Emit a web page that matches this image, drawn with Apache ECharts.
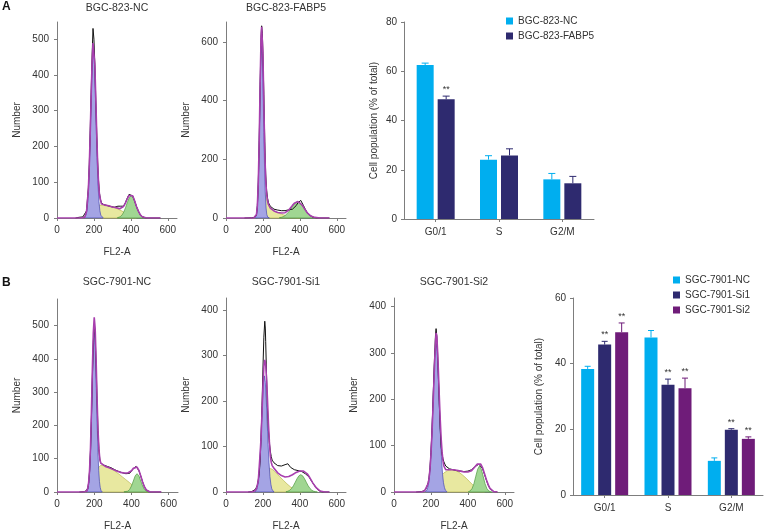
<!DOCTYPE html>
<html><head><meta charset="utf-8">
<script src="https://cdn.jsdelivr.net/npm/echarts@6/dist/echarts.min.js"></script>
<style>html,body{margin:0;padding:0;background:#fff}#c{width:764px;height:532px}</style>
</head><body><div id="c"></div>
<script>
// ---------------- DATA ----------------
const histTitles = ['BGC-823-NC','BGC-823-FABP5','SGC-7901-NC','SGC-7901-Si1','SGC-7901-Si2'];
const fl2Ticks = [0,200,400,600];
const numTicksA1 = [0,100,200,300,400,500];
const numTicksA2 = [0,200,400,600];
const numTicksB1 = [0,100,200,300,400,500];
const numTicksB2 = [0,100,200,300,400];
const numTicksB3 = [0,100,200,300,400];

// BGC-823-NC  (FL2-A channel, count)
const a1Raw = [[100,0],[120,2],[130,1],[140,3],[150,4],[160,20],[170,85],[175,150],[180,245],[185,350],[190,450],[195,530],[200,500],[205,430],[210,330],[215,240],[220,160],[225,105],[230,70],[235,52],[240,44],[250,38],[260,36],[270,35],[280,33],[290,32],[300,31],[310,30],[320,30],[330,33],[340,35],[345,33],[350,30],[360,33],[370,42],[380,55],[390,66],[395,70],[400,69],[410,62],[420,48],[430,33],[440,20],[450,10],[460,4],[470,1],[480,0],[560,0]];
const a1Fit = [[0,0],[130,0],[150,2],[160,18],[170,81],[175,148],[180,238],[185,342],[190,435],[195,489],[200,486],[205,428],[210,336],[215,239],[220,156],[225,98],[230,65],[240,40],[250,36],[260,36],[280,34],[300,31],[320,29],[340,26],[350,27],[360,32],[370,41],[380,53],[390,63],[400,67],[410,62],[420,49],[430,33],[440,20],[450,10],[460,4],[470,1.5],[480,0.5],[500,0],[560,0]];
const a1G1 = [[145,1],[157,8],[162,21],[167,47],[172,95],[177,169],[182,265],[187,364],[192,441],[197,470],[202,441],[207,364],[212,265],[217,169],[222,95],[227,47],[232,21],[237,8],[249,1]];
const a1S = [[150,0],[170,8],[190,20],[210,31],[230,36],[250,36],[270,35],[290,33],[310,30],[330,25],[350,20],[370,14],[390,8],[410,3],[430,0]];
const a1G2 = [[327,0.6],[342,3.5],[352,8],[362,17],[372,30],[382,45],[392,57],[402,62],[412,57],[422,45],[432,30],[442,17],[452,8],[462,3.5],[477,0.6]];

// BGC-823-FABP5
const a2Raw = [[100,0],[140,1],[155,2],[165,10],[170,40],[175,120],[180,265],[185,455],[190,615],[193,655],[197,630],[200,560],[205,420],[210,260],[215,150],[220,95],[225,68],[230,52],[240,40],[250,34],[260,30],[270,28],[280,27],[290,27],[300,25],[310,24],[320,25],[330,27],[340,28],[350,28],[360,30],[370,35],[380,42],[390,52],[400,58],[405,60],[410,55],[420,42],[430,29],[440,18],[450,11],[460,6],[470,3],[480,1],[490,0],[560,0]];
const a2Fit = [[0,0],[150,0],[160,3],[165,12],[170,43],[175,124],[180,268],[185,461],[190,619],[193,652],[195,648],[200,560],[205,387],[210,229],[215,130],[220,81],[225,59],[230,46],[240,34],[250,29],[260,24],[270,21],[280,19],[290,18],[300,17],[310,17],[320,18],[330,22],[340,27],[350,35],[360,43],[370,50],[380,55],[390,56],[400,53],[410,46],[420,37],[430,27],[440,18],[450,11.5],[460,6.6],[470,3.5],[480,2],[500,0.3],[520,0],[560,0]];
const a2G1 = [[160,3],[165,12],[169,34],[173,81],[177,167],[181,292],[185,436],[189,554],[193,600],[197,554],[201,436],[205,292],[209,167],[213,81],[217,34],[221,12],[226,3],[235,0]];
const a2S = [[170,0],[180,10],[190,45],[200,90],[205,95],[210,88],[220,65],[230,45],[240,34],[260,24],[280,18],[300,13],[320,9],[340,6],[360,3],[380,1],[400,0]];
const a2G2 = [[290,1.3],[300,2.3],[310,4.6],[320,8.3],[330,14],[340,21.5],[350,30.5],[360,40],[370,48],[380,53.6],[388,55],[400,52],[410,45],[420,36],[430,27],[440,18],[450,11.5],[460,6.6],[470,3.5],[480,1.8],[500,0.3]];

// SGC-7901-NC
const b1Raw = [[120,0],[150,1],[160,3],[165,10],[170,28],[175,62],[180,125],[185,225],[190,345],[195,450],[200,505],[205,470],[210,385],[215,280],[220,185],[225,128],[230,98],[235,87],[240,83],[250,81],[260,79],[270,77],[280,75],[290,73],[300,70],[310,67],[320,65],[330,62],[340,60],[350,58],[360,57],[370,55],[380,54],[390,56],[400,62],[410,70],[420,76],[425,77],[430,74],[440,64],[450,48],[460,30],[470,15],[480,6],[490,2],[500,0],[560,0]];
const b1Fit = [[0,0],[140,0],[160,2],[165,11],[170,29],[175,67],[180,134],[185,242],[190,369],[195,478],[200,525],[205,492],[210,399],[215,286],[220,191],[225,131],[230,99],[235,87],[240,82],[260,77],[280,73],[300,68],[320,63],[340,59],[360,57],[380,57],[390,59],[400,64],[410,71],[420,76],[430,75],[440,65],[450,48],[460,30],[470,15],[480,6],[490,2],[500,0],[560,0]];
const b1G1 = [[158,1],[164,5],[168,14],[172,32],[176,65],[180,119],[184,197],[188,291],[192,384],[196,454],[200,480],[204,454],[208,384],[212,291],[216,197],[220,119],[224,65],[228,32],[232,14],[236,5],[242,1]];
const b1S = [[160,0],[170,8],[180,15],[190,30],[200,45],[210,60],[220,72],[235,80],[250,79],[270,75],[290,70],[310,63],[330,55],[350,46],[370,37],[390,28],[410,18],[430,10],[450,4],[470,1],[490,0]];
const b1G2 = [[360,0.6],[380,2.4],[390,7.4],[400,18],[410,33],[420,48.5],[430,55],[440,48.5],[450,33],[460,18],[470,7.4],[480,2.4],[490,0.6],[500,0]];

// SGC-7901-Si1
const b2Raw = [[120,0],[140,1],[150,3],[160,6],[170,15],[180,40],[185,70],[190,120],[195,190],[200,270],[205,340],[210,375],[213,360],[215,330],[220,250],[225,180],[230,135],[235,108],[240,90],[245,78],[250,70],[260,64],[270,60],[280,58],[290,57],[300,57],[310,58],[320,60],[330,63],[335,62],[340,58],[350,54],[360,51],[370,49],[380,48],[390,47],[400,46],[410,45],[420,43],[430,40],[440,37],[450,33],[460,26],[470,20],[480,14],[490,9],[500,4],[510,2],[520,0],[560,0]];
const b2Fit = [[0,0],[140,0],[155,2],[165,7],[175,25],[185,85],[190,120],[195,175],[200,230],[205,275],[210,290],[215,280],[220,245],[225,200],[230,150],[235,110],[240,80],[245,65],[250,58],[260,52],[270,47],[280,42],[290,38],[300,36],[310,34],[320,33],[330,33],[340,34],[350,36],[360,38],[370,40],[380,43],[390,45],[400,46],[410,46],[420,46],[430,44],[440,40],[450,34],[460,27],[470,20],[480,14],[490,9],[500,5],[510,2],[520,1],[535,0],[560,0]];
const b2G1 = [[156,0.6],[163,3],[168,7],[173,17],[178,34],[183,64],[188,105],[193,155],[198,204],[203,241],[208,255],[213,241],[218,204],[223,155],[228,105],[233,64],[238,34],[243,17],[248,7],[253,3],[260,0.6]];
const b2S = [[160,0],[175,8],[190,22],[205,38],[220,48],[235,52],[250,50],[270,43],[290,34],[310,26],[330,18],[350,11],[370,6],[390,2],[410,0]];
const b2G2 = [[325,0.6],[335,1.7],[345,3.8],[355,7.7],[365,13.7],[375,21.4],[385,29.4],[395,35.6],[405,38],[415,35.6],[425,29.4],[435,21.4],[445,13.7],[455,7.7],[465,3.8],[475,1.7],[485,0.6],[495,0]];

// SGC-7901-Si2
const b3Raw = [[120,0],[150,1],[165,3],[175,8],[185,20],[190,32],[195,52],[200,85],[205,125],[210,180],[215,240],[220,295],[225,340],[228,352],[232,335],[236,300],[240,255],[245,195],[250,140],[255,100],[260,82],[265,72],[270,65],[280,56],[290,52],[300,50],[310,49],[320,48],[330,48],[340,46],[350,45],[360,45],[370,44],[380,44],[390,45],[400,45],[410,46],[420,48],[430,51],[440,55],[450,57],[460,60],[465,61],[470,58],[480,50],[490,38],[500,26],[510,15],[520,7],[530,3],[540,1],[550,0],[560,0]];
const b3Fit = [[0,0],[150,0],[165,2],[175,6],[185,18],[190,30],[195,50],[200,80],[205,120],[210,170],[215,225],[220,280],[225,325],[228,343],[232,335],[236,305],[240,265],[245,210],[250,160],[255,118],[260,88],[265,68],[270,56],[280,48],[290,47],[300,48],[320,48],[340,47],[360,45],[380,43],[400,43],[420,46],[430,50],[440,55],[450,60],[460,62],[470,60],[480,52],[490,40],[500,27],[510,16],[520,8],[530,4],[540,1],[550,0],[560,0]];
const b3G1 = [[170,1],[178,4],[183,10],[188,20],[193,38],[198,67],[203,109],[208,160],[213,217],[218,269],[223,306],[228,320],[233,306],[238,269],[243,217],[248,160],[253,109],[258,67],[263,38],[268,20],[273,10],[278,4],[286,1]];
const b3S = [[170,0],[190,5],[210,13],[230,22],[250,33],[270,41],[290,46],[310,48],[330,47],[350,43],[370,37],[390,30],[410,22],[430,14],[450,7],[470,3],[490,0]];
const b3G2 = [[403,0.6],[413,2.5],[423,7.5],[433,18],[443,34],[453,49],[463,56],[473,49],[483,34],[493,18],[503,7.5],[513,2.5],[523,0.6],[530,0]];

// Bar charts
const phases = ['G0/1','S','G2/M'];
const popTicksA = [0,20,40,60,80];
const popTicksB = [0,20,40,60];
const bgcNames = ['BGC-823-NC','BGC-823-FABP5'];
const bgcNC = [62.5,24.1,16.1];
const bgcNCUp = [63.3,25.7,18.5];
const bgcFABP5 = [48.6,25.8,14.5];
const bgcFABP5Up = [49.9,28.5,17.3];
const bgcNCSig = ['','',''];
const bgcFABP5Sig = ['**','',''];
const sgcNames = ['SGC-7901-NC','SGC-7901-Si1','SGC-7901-Si2'];
const sgcNC = [38.4,48.0,10.4];
const sgcNCUp = [39.2,50.1,11.3];
const sgcSi1 = [45.8,33.6,19.9];
const sgcSi1Up = [46.8,35.3,20.2];
const sgcSi2 = [49.6,32.5,17.1];
const sgcSi2Up = [52.4,35.6,17.7];
const sgcNCSig = ['','',''];
const sgcSi1Sig = ['**','**','**'];
const sgcSi2Sig = ['**','**','**'];

// ---------------- CHART ----------------
const FONT = 'Liberation Sans, Arial, sans-serif';
const AX = '#7d7d7d';
const TXT = '#333';
const C_NC = '#00aeef', C_S1 = '#2e2a6f', C_S2 = '#6f1c79';

const hists = [
  {raw:a1Raw, fit:a1Fit, g1:a1G1, s:a1S, g2:a1G2, yMax:548, yTicks:numTicksA1, grid:{left:57, top:22, width:120, height:196}},
  {raw:a2Raw, fit:a2Fit, g1:a2G1, s:a2S, g2:a2G2, yMax:668, yTicks:numTicksA2, grid:{left:226, top:22, width:120, height:196}},
  {raw:b1Raw, fit:b1Fit, g1:b1G1, s:b1S, g2:b1G2, yMax:580, yTicks:numTicksB1, grid:{left:57, top:299, width:121, height:196}},
  {raw:b2Raw, fit:b2Fit, g1:b2G1, s:b2S, g2:b2G2, yMax:426, yTicks:numTicksB2, grid:{left:226, top:298, width:120, height:197}},
  {raw:b3Raw, fit:b3Fit, g1:b3G1, s:b3S, g2:b3G2, yMax:418, yTicks:numTicksB3, grid:{left:394, top:298, width:120, height:197}}
];

const grids = [], xAxes = [], yAxes = [], series = [];
const axisCommon = {
  axisLine:{show:true, lineStyle:{color:AX, width:1}},
  axisTick:{show:true, length:3, lineStyle:{color:AX}},
  splitLine:{show:false},
  axisLabel:{fontSize:10, color:TXT, fontFamily:FONT},
  nameTextStyle:{fontSize:10, color:TXT, fontFamily:FONT}
};

function fillSeries(idx, pts, fill, stroke) {
  return {
    type:'custom', xAxisIndex:idx, yAxisIndex:idx, silent:true, z:2, animation:false,
    data:[[pts[0][0], 0]], encode:{x:0, y:1},
    renderItem(params, api) {
      const p = [api.coord([pts[0][0], 0])];
      pts.forEach(d => p.push(api.coord(d)));
      p.push(api.coord([pts[pts.length-1][0], 0]));
      return {type:'polygon', shape:{points:p}, style:{fill:fill, stroke:stroke, lineWidth:0.7, blend:'multiply'}};
    }
  };
}

hists.forEach((h, k) => {
  grids.push(Object.assign({}, h.grid));
  xAxes.push(Object.assign({}, axisCommon, {
    type:'value', gridIndex:k, min:0, max:650, interval:200,
    axisLabel:Object.assign({}, axisCommon.axisLabel, {margin:7, customValues:fl2Ticks}),
    axisTick:Object.assign({}, axisCommon.axisTick, {customValues:fl2Ticks}),
    name:'FL2-A', nameLocation:'middle', nameGap:29
  }));
  yAxes.push(Object.assign({}, axisCommon, {
    type:'value', gridIndex:k, min:0, max:h.yMax,
    axisLabel:Object.assign({}, axisCommon.axisLabel, {margin:8, customValues:h.yTicks}),
    axisTick:Object.assign({}, axisCommon.axisTick, {customValues:h.yTicks}),
    name:'Number', nameLocation:'middle', nameGap:35, nameRotate:90
  }));
  series.push(fillSeries(k, h.s, 'rgb(232,232,160)', '#b9b950'));
  series.push(fillSeries(k, h.g2, 'rgb(160,214,146)', '#4f9a40'));
  series.push(fillSeries(k, h.g1, 'rgb(164,164,228)', '#4646b4'));
  series.push({type:'line', xAxisIndex:k, yAxisIndex:k, data:h.raw, showSymbol:false, symbol:'none', silent:true, z:3,
    lineStyle:{color:'#111', width:1}, animation:false});
  series.push({type:'line', xAxisIndex:k, yAxisIndex:k, data:h.fit, showSymbol:false, symbol:'none', silent:true, z:4,
    lineStyle:{color:'#a83fae', width:1.6}, animation:false});
});

// bar grids
const barGrids = [
  {grid:{left:404, top:22, width:190, height:197}, max:80, ticks:popTicksA, nameGap:25},
  {grid:{left:573, top:298, width:190, height:197}, max:60, ticks:popTicksB, nameGap:29}
];
barGrids.forEach((b, j) => {
  const k = hists.length + j;
  grids.push(Object.assign({}, b.grid));
  xAxes.push(Object.assign({}, axisCommon, {
    type:'category', gridIndex:k, data:phases,
    axisTick:Object.assign({}, axisCommon.axisTick, {alignWithLabel:true}),
    axisLabel:Object.assign({}, axisCommon.axisLabel, {margin:8})
  }));
  yAxes.push(Object.assign({}, axisCommon, {
    type:'value', gridIndex:k, min:0, max:b.max, interval:20,
    axisLabel:Object.assign({}, axisCommon.axisLabel, {margin:7, customValues:b.ticks}),
    axisTick:Object.assign({}, axisCommon.axisTick, {customValues:b.ticks}),
    name:'Cell population (% of total)', nameLocation:'middle', nameGap:b.nameGap, nameRotate:90
  }));
});

function errSeries(k, vals, ups, sig, color, offset, capW) {
  return {
    type:'custom', xAxisIndex:k, yAxisIndex:k, silent:true, z:5, animation:false,
    data: vals.map((v, i) => [i, v, ups[i]]), encode:{x:0, y:[1,2]},
    renderItem(params, api) {
      const i = api.value(0);
      const base = api.coord([i, api.value(1)]);
      const top = api.coord([i, api.value(2)]);
      const x = base[0] + offset;
      const ch = [
        {type:'line', shape:{x1:x, y1:base[1], x2:x, y2:top[1]}, style:{stroke:color, lineWidth:1}},
        {type:'line', shape:{x1:x-capW/2, y1:top[1], x2:x+capW/2, y2:top[1]}, style:{stroke:color, lineWidth:1}}
      ];
      if (sig[i]) ch.push({type:'text', x:x, y:top[1]-2, style:{text:sig[i], align:'center', verticalAlign:'bottom', font:'9px ' + FONT, fill:TXT}});
      return {type:'group', children:ch};
    }
  };
}

const kA = 5, kB = 6;
series.push({type:'bar', name:bgcNames[0], xAxisIndex:kA, yAxisIndex:kA, data:bgcNC, barWidth:17, barGap:'23.5%', itemStyle:{color:C_NC}, animation:false});
series.push({type:'bar', name:bgcNames[1], xAxisIndex:kA, yAxisIndex:kA, data:bgcFABP5, barWidth:17, barGap:'23.5%', itemStyle:{color:C_S1}, animation:false});
series.push(errSeries(kA, bgcNC, bgcNCUp, bgcNCSig, C_NC, -10.5, 7));
series.push(errSeries(kA, bgcFABP5, bgcFABP5Up, bgcFABP5Sig, C_S1, 10.5, 7));

series.push({type:'bar', name:sgcNames[0], xAxisIndex:kB, yAxisIndex:kB, data:sgcNC, barWidth:13, barGap:'30.8%', itemStyle:{color:C_NC}, animation:false});
series.push({type:'bar', name:sgcNames[1], xAxisIndex:kB, yAxisIndex:kB, data:sgcSi1, barWidth:13, barGap:'30.8%', itemStyle:{color:C_S1}, animation:false});
series.push({type:'bar', name:sgcNames[2], xAxisIndex:kB, yAxisIndex:kB, data:sgcSi2, barWidth:13, barGap:'30.8%', itemStyle:{color:C_S2}, animation:false});
series.push(errSeries(kB, sgcNC, sgcNCUp, sgcNCSig, C_NC, -17, 6));
series.push(errSeries(kB, sgcSi1, sgcSi1Up, sgcSi1Sig, C_S1, 0, 6));
series.push(errSeries(kB, sgcSi2, sgcSi2Up, sgcSi2Sig, C_S2, 17, 6));

const legendCommon = {orient:'vertical', icon:'rect', itemWidth:7, itemHeight:7, itemGap:5, selectedMode:false,
  textStyle:{fontSize:10, color:TXT, fontFamily:FONT}, padding:0};

const titlePos = [[117,8],[286,8],[117,282],[286,282],[454,282]];
const graphics = histTitles.map((t, i) => ({type:'text', x:titlePos[i][0], y:titlePos[i][1],
  style:{text:t, align:'center', verticalAlign:'middle', font:'10.5px ' + FONT, fill:TXT}}));
graphics.push({type:'text', x:2, y:1, style:{text:'A', font:'bold 12px ' + FONT, fill:'#111'}});
graphics.push({type:'text', x:2, y:277, style:{text:'B', font:'bold 12px ' + FONT, fill:'#111'}});

const chart = echarts.init(document.getElementById('c'), null, {renderer:'canvas'});
chart.setOption({
  animation:false,
  backgroundColor:'#fff',
  textStyle:{fontFamily:FONT},
  grid:grids, xAxis:xAxes, yAxis:yAxes, series:series,
  legend:[
    Object.assign({}, legendCommon, {data:bgcNames, left:506, top:16}),
    Object.assign({}, legendCommon, {data:sgcNames, left:673, top:275})
  ],
  graphic:graphics
});
</script></body></html>
